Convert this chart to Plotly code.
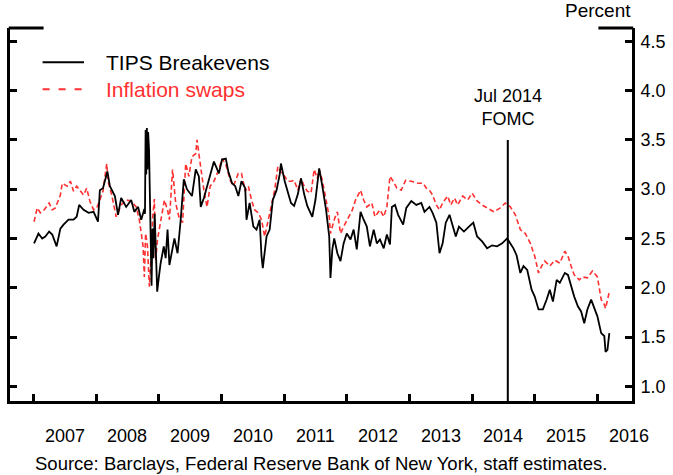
import plotly.graph_objects as go

# ---- data (decimal years, percent) ----
tips_x = [2007.01, 2007.08, 2007.14, 2007.19, 2007.25, 2007.30, 2007.37, 2007.43, 2007.48, 2007.56,
          2007.64, 2007.69, 2007.73, 2007.80, 2007.88, 2007.96, 2008.03, 2008.06, 2008.11, 2008.18,
          2008.22, 2008.30, 2008.35, 2008.40, 2008.48, 2008.56, 2008.61, 2008.67, 2008.72, 2008.77,
          2008.78, 2008.79, 2008.80, 2008.81, 2008.82, 2008.83, 2008.845, 2008.87, 2008.885, 2008.90,
          2008.915, 2008.935, 2008.955, 2008.975, 2009.00, 2009.03, 2009.08, 2009.11, 2009.14, 2009.17,
          2009.22, 2009.25, 2009.30, 2009.33, 2009.35, 2009.40, 2009.45, 2009.53, 2009.59, 2009.64,
          2009.67, 2009.72, 2009.80, 2009.88, 2009.96, 2010.01, 2010.07, 2010.11, 2010.17, 2010.22,
          2010.27, 2010.32, 2010.38, 2010.40, 2010.45, 2010.51, 2010.56, 2010.61, 2010.64, 2010.66,
          2010.72, 2010.77, 2010.82, 2010.88, 2010.93, 2010.95, 2011.01, 2011.06, 2011.11, 2011.16,
          2011.22, 2011.27, 2011.32, 2011.37, 2011.45, 2011.50, 2011.56, 2011.61, 2011.67, 2011.72,
          2011.74, 2011.77, 2011.80, 2011.85, 2011.90, 2011.95, 2012.00, 2012.06, 2012.11, 2012.16,
          2012.22, 2012.27, 2012.32, 2012.37, 2012.43, 2012.48, 2012.53, 2012.59, 2012.64, 2012.69,
          2012.72, 2012.77, 2012.82, 2012.90, 2012.95, 2013.03, 2013.11, 2013.19, 2013.24, 2013.32,
          2013.37, 2013.43, 2013.48, 2013.53, 2013.58, 2013.64, 2013.69, 2013.74, 2013.79, 2013.87,
          2013.95, 2014.02, 2014.08, 2014.16, 2014.24, 2014.32, 2014.40, 2014.48, 2014.56, 2014.61,
          2014.66, 2014.71, 2014.77, 2014.82, 2014.88, 2014.95, 2015.00, 2015.06, 2015.13, 2015.19,
          2015.24, 2015.29, 2015.35, 2015.40, 2015.48, 2015.53, 2015.58, 2015.63, 2015.69, 2015.74,
          2015.79, 2015.84, 2015.90, 2015.95, 2016.00, 2016.06, 2016.11, 2016.13, 2016.16, 2016.19]
tips_y = [2.45, 2.55, 2.50, 2.52, 2.57, 2.54, 2.42, 2.60, 2.64, 2.69,
          2.69, 2.72, 2.84, 2.79, 2.76, 2.77, 2.67, 2.99, 3.01, 3.18,
          3.03, 2.93, 2.74, 2.91, 2.82, 2.89, 2.77, 2.82, 2.69, 2.80,
          2.75, 3.60, 3.15, 3.62, 3.20, 3.58, 3.40, 2.40, 2.02, 2.60,
          2.30, 2.75, 2.20, 1.96, 2.10, 2.25, 2.42, 2.30, 2.59, 2.23,
          2.40, 2.50, 2.35, 2.55, 2.69, 3.10, 3.00, 2.93, 3.20, 3.13,
          2.82, 2.91, 3.11, 3.28, 3.16, 3.30, 3.31, 3.18, 3.06, 3.03,
          2.93, 3.08, 3.01, 2.69, 2.86, 2.62, 2.59, 2.69, 2.32, 2.20,
          2.52, 2.59, 2.89, 2.99, 3.15, 3.26, 3.08, 2.98, 2.86, 2.83,
          2.95, 3.11, 2.95, 2.83, 2.72, 2.89, 3.21, 3.03, 2.79, 2.52,
          2.10, 2.39, 2.50, 2.35, 2.27, 2.45, 2.55, 2.49, 2.59, 2.39,
          2.77, 2.69, 2.62, 2.42, 2.59, 2.45, 2.49, 2.40, 2.54, 2.44,
          2.82, 2.84, 2.74, 2.64, 2.81, 2.88, 2.84, 2.86, 2.77, 2.82,
          2.76, 2.66, 2.35, 2.45, 2.66, 2.74, 2.62, 2.52, 2.62, 2.57,
          2.62, 2.66, 2.52, 2.47, 2.40, 2.43, 2.42, 2.45, 2.50, 2.45,
          2.40, 2.33, 2.15, 2.22, 2.18, 1.98, 1.91, 1.78, 1.78, 1.88,
          1.98, 1.86, 2.08, 2.05, 2.15, 2.13, 2.01, 1.91, 1.81, 1.76,
          1.64, 1.78, 1.88, 1.79, 1.71, 1.54, 1.51, 1.35, 1.37, 1.54]

swap_x = [2007.01, 2007.06, 2007.11, 2007.17, 2007.25, 2007.30, 2007.35, 2007.43, 2007.46, 2007.54,
          2007.59, 2007.64, 2007.69, 2007.75, 2007.80, 2007.85, 2007.90, 2007.96, 2008.01, 2008.06,
          2008.11, 2008.17, 2008.19, 2008.25, 2008.32, 2008.40, 2008.48, 2008.56, 2008.64, 2008.69,
          2008.72, 2008.75, 2008.77, 2008.79, 2008.82, 2008.85, 2008.88, 2008.90, 2008.93, 2008.95,
          2008.98, 2009.03, 2009.09, 2009.14, 2009.17, 2009.22, 2009.27, 2009.32, 2009.38, 2009.43,
          2009.48, 2009.53, 2009.59, 2009.61, 2009.67, 2009.72, 2009.77, 2009.82, 2009.88, 2009.96,
          2010.01, 2010.07, 2010.14, 2010.19, 2010.27, 2010.32, 2010.38, 2010.43, 2010.48, 2010.53,
          2010.59, 2010.64, 2010.69, 2010.75, 2010.80, 2010.85, 2010.90, 2010.96, 2011.01, 2011.06,
          2011.11, 2011.16, 2011.22, 2011.27, 2011.32, 2011.37, 2011.43, 2011.48, 2011.53, 2011.56,
          2011.61, 2011.67, 2011.72, 2011.74, 2011.80, 2011.85, 2011.90, 2011.95, 2012.01, 2012.09,
          2012.14, 2012.22, 2012.27, 2012.32, 2012.40, 2012.45, 2012.53, 2012.59, 2012.64, 2012.69,
          2012.74, 2012.80, 2012.87, 2012.94, 2013.03, 2013.14, 2013.22, 2013.27, 2013.32, 2013.37,
          2013.43, 2013.48, 2013.53, 2013.61, 2013.66, 2013.72, 2013.77, 2013.85, 2013.93, 2014.00,
          2014.08, 2014.16, 2014.24, 2014.35, 2014.45, 2014.53, 2014.61, 2014.69, 2014.77, 2014.85,
          2014.93, 2015.00, 2015.06, 2015.11, 2015.16, 2015.24, 2015.32, 2015.40, 2015.48, 2015.53,
          2015.58, 2015.63, 2015.71, 2015.76, 2015.84, 2015.92, 2016.00, 2016.06, 2016.11, 2016.13,
          2016.19]
swap_y = [2.67, 2.81, 2.76, 2.79, 2.86, 2.79, 2.81, 2.94, 3.06, 3.03,
          3.08, 2.98, 3.03, 2.98, 2.94, 3.01, 2.88, 2.79, 2.81, 2.89,
          2.98, 3.26, 3.08, 2.94, 2.72, 2.84, 2.89, 2.88, 2.82, 2.69,
          2.55, 2.42, 2.11, 2.55, 2.42, 2.01, 2.35, 2.69, 2.90, 2.28,
          2.49, 2.69, 2.89, 2.79, 2.69, 3.20, 2.86, 2.72, 2.66, 3.26,
          3.13, 3.33, 3.36, 3.50, 3.23, 2.99, 2.82, 3.03, 3.08, 3.20,
          3.31, 3.25, 3.09, 3.03, 3.16, 3.16, 2.98, 3.03, 2.89, 2.79,
          2.76, 2.69, 2.52, 2.69, 2.82, 2.99, 3.23, 3.16, 3.13, 3.08,
          3.08, 3.09, 2.99, 3.11, 3.03, 2.98, 2.96, 3.20, 3.11, 3.20,
          3.09, 2.89, 2.72, 2.55, 2.69, 2.77, 2.55, 2.62, 2.69, 2.79,
          2.89, 2.99, 2.89, 2.82, 2.86, 2.72, 2.79, 2.72, 2.82, 3.13,
          3.08, 3.01, 2.99, 3.09, 3.08, 3.06, 3.06, 3.01, 2.99, 2.94,
          2.84, 2.79, 2.86, 2.93, 2.84, 2.91, 2.84, 2.93, 2.89, 2.96,
          2.88, 2.84, 2.81, 2.77, 2.81, 2.86, 2.82, 2.74, 2.59, 2.55,
          2.45, 2.32, 2.15, 2.22, 2.27, 2.22, 2.28, 2.25, 2.37, 2.32,
          2.22, 2.13, 2.08, 2.11, 2.10, 2.17, 2.11, 1.88, 1.83, 1.79,
          1.96]

years = list(range(2007, 2017))
y_ticks = [1.0, 1.5, 2.0, 2.5, 3.0, 3.5, 4.0, 4.5]
event_x = 2014.57
event_label = "Jul 2014<br>FOMC"
x_range = [2006.626, 2016.552]
y_range = [0.851, 4.635]

FONT = "Liberation Sans, Arial, sans-serif"
RED = "#ff3030"

fig = go.Figure()
fig.add_trace(go.Scatter(x=swap_x, y=swap_y, mode="lines", name="Inflation swaps",
                         line=dict(color=RED, width=1.6, dash="5px,3px"), showlegend=False))
fig.add_trace(go.Scatter(x=tips_x, y=tips_y, mode="lines", name="TIPS Breakevens",
                         line=dict(color="black", width=1.8), showlegend=False))

shapes = [
    # event line
    dict(type="line", xref="x", yref="y", x0=event_x, x1=event_x, y0=y_range[0], y1=3.5,
         line=dict(color="black", width=2)),
    # top border stubs
    dict(type="line", xref="paper", yref="paper", x0=-0.002, x1=0.054, y0=1, y1=1,
         line=dict(color="black", width=3)),
    dict(type="line", xref="paper", yref="paper", x0=0.946, x1=1.002, y0=1, y1=1,
         line=dict(color="black", width=3)),
    # legend samples
    dict(type="line", xref="paper", yref="paper", x0=0.0524, x1=0.119, y0=0.908, y1=0.908,
         line=dict(color="black", width=2)),
    dict(type="line", xref="paper", yref="paper", x0=0.0524, x1=0.119, y0=0.836, y1=0.836,
         line=dict(color=RED, width=2, dash="7px,9px")),
]

annotations = []
for yr in years:
    annotations.append(dict(x=yr + 0.5, y=0, xref="x", yref="paper", yshift=-35,
                            text=str(yr), showarrow=False, xanchor="center", yanchor="middle",
                            font=dict(size=18, color="black", family=FONT)))
annotations += [
    dict(x=0.0365, y=0, xref="paper", yref="paper", yshift=-62, xanchor="left", yanchor="middle",
         text="Source: Barclays, Federal Reserve Bank of New York, staff estimates.",
         showarrow=False, font=dict(size=18.5, color="black", family=FONT)),
    dict(x=1.002, y=1, xref="paper", yref="paper", yshift=18, xanchor="right", yanchor="middle",
         text="Percent", showarrow=False, font=dict(size=19, color="black", family=FONT)),
    dict(x=event_x, y=3.83, xref="x", yref="y", xanchor="center", yanchor="middle",
         text=event_label, showarrow=False, font=dict(size=18, color="black", family=FONT)),
    dict(x=0.1508, y=0.908, xref="paper", yref="paper", xanchor="left", yanchor="middle",
         text="TIPS Breakevens", showarrow=False, font=dict(size=21, color="black", family=FONT)),
    dict(x=0.1508, y=0.836, xref="paper", yref="paper", xanchor="left", yanchor="middle",
         text="Inflation swaps", showarrow=False, font=dict(size=21, color=RED, family=FONT)),
]

fig.update_layout(
    width=673, height=475,
    margin=dict(l=7, r=36, t=28, b=74),
    paper_bgcolor="white", plot_bgcolor="white",
    font=dict(family=FONT, size=18, color="black"),
    shapes=shapes, annotations=annotations,
    xaxis=dict(range=x_range, tickvals=years, showticklabels=False, ticks="inside",
               ticklen=7, tickwidth=2.5, tickcolor="black", showline=True, linewidth=3,
               linecolor="black", showgrid=False, zeroline=False),
    yaxis=dict(range=y_range, side="right", tickvals=y_ticks, tickformat=".1f",
               ticks="inside", ticklen=7, tickwidth=2.5, tickcolor="black",
               showline=True, linewidth=3, linecolor="black", mirror="ticks",
               showgrid=False, zeroline=False, ticklabelstandoff=2,
               tickfont=dict(size=18, color="black", family=FONT)),
)

fig.write_html(
    "out.html",
    config={"displayModeBar": False},
    post_script="document.body.style.margin='0px';document.body.style.padding='0px';",
)
